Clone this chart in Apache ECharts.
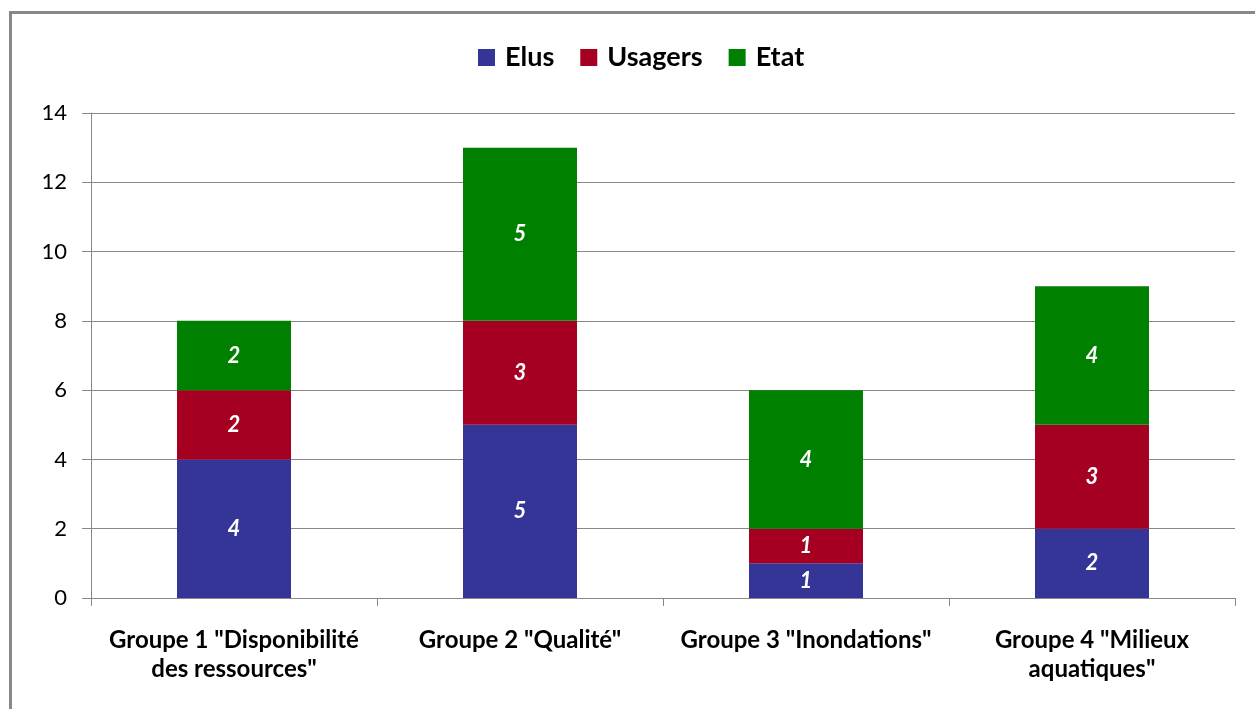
<!DOCTYPE html>
<html>
<head>
<meta charset="utf-8">
<script src="https://cdn.jsdelivr.net/npm/echarts@6/dist/echarts.min.js"></script>
<style>
html,body{margin:0;padding:0;background:#fff;}
#c{width:1255px;height:709px;}
</style>
</head>
<body>
<div id="c"></div>
<script>
const categories = ['Groupe 1 "Disponibilité\ndes ressources"', 'Groupe 2 "Qualité"', 'Groupe 3 "Inondations"', 'Groupe 4 "Milieux\naquatiques"'];
const elus = [4, 5, 1, 2];
const usagers = [2, 3, 1, 3];
const etat = [2, 5, 4, 4];
const seriesNames = ['Elus', 'Usagers', 'Etat'];
const yTicks = [0, 2, 4, 6, 8, 10, 12, 14];

const FONT = 'Lato, "Open Sans", sans-serif';
const colors = ['#353598', '#A50021', '#008000'];
const label = {
  show: true, position: 'inside', color: '#fff', fontStyle: 'italic', fontWeight: 'bold',
  fontSize: 22, fontFamily: FONT
};
function mk(name, data, i) {
  return { name, type: 'bar', stack: 'all', data, barWidth: 114, itemStyle: { color: colors[i] }, label, emphasis: { disabled: true } };
}
const chart = echarts.init(document.getElementById('c'), null, { renderer: 'canvas' });
chart.setOption({
  animation: false,
  backgroundColor: '#fff',
  graphic: [{
    type: 'rect', shape: { x: 10.5, y: 12.5, width: 1300, height: 800 },
    style: { fill: 'none', stroke: '#888', lineWidth: 3 }, silent: true, z: -1
  }],
  legend: {
    top: 39, left: 473, itemWidth: 17, itemHeight: 17, itemGap: 26,
    icon: 'rect',
    textStyle: { fontFamily: FONT, fontSize: 27, fontWeight: 'bold', color: '#000', padding: [0, 0, 0, 5] },
    data: seriesNames
  },
  grid: { left: 91, right: 20, top: 113, bottom: 111, containLabel: false },
  xAxis: {
    type: 'category', data: categories,
    axisLine: { lineStyle: { color: '#888', width: 1 } },
    axisTick: { show: true, length: 8, alignWithLabel: false, lineStyle: { color: '#888' } },
    axisLabel: { color: '#000', fontFamily: FONT, fontSize: 24, fontWeight: 'bold', margin: 28, lineHeight: 29, interval: 0 }
  },
  yAxis: {
    type: 'value', min: yTicks[0], max: yTicks[yTicks.length - 1], interval: 2,
    axisLine: { show: true, lineStyle: { color: '#888' } },
    axisTick: { show: true, length: 9, lineStyle: { color: '#888' } },
    splitLine: { lineStyle: { color: '#888', width: 1 } },
    axisLabel: { color: '#000', fontFamily: FONT, fontSize: 22, margin: 24 }
  },
  series: [mk('Elus', elus, 0), mk('Usagers', usagers, 1), mk('Etat', etat, 2)]
});
</script>
</body>
</html>
